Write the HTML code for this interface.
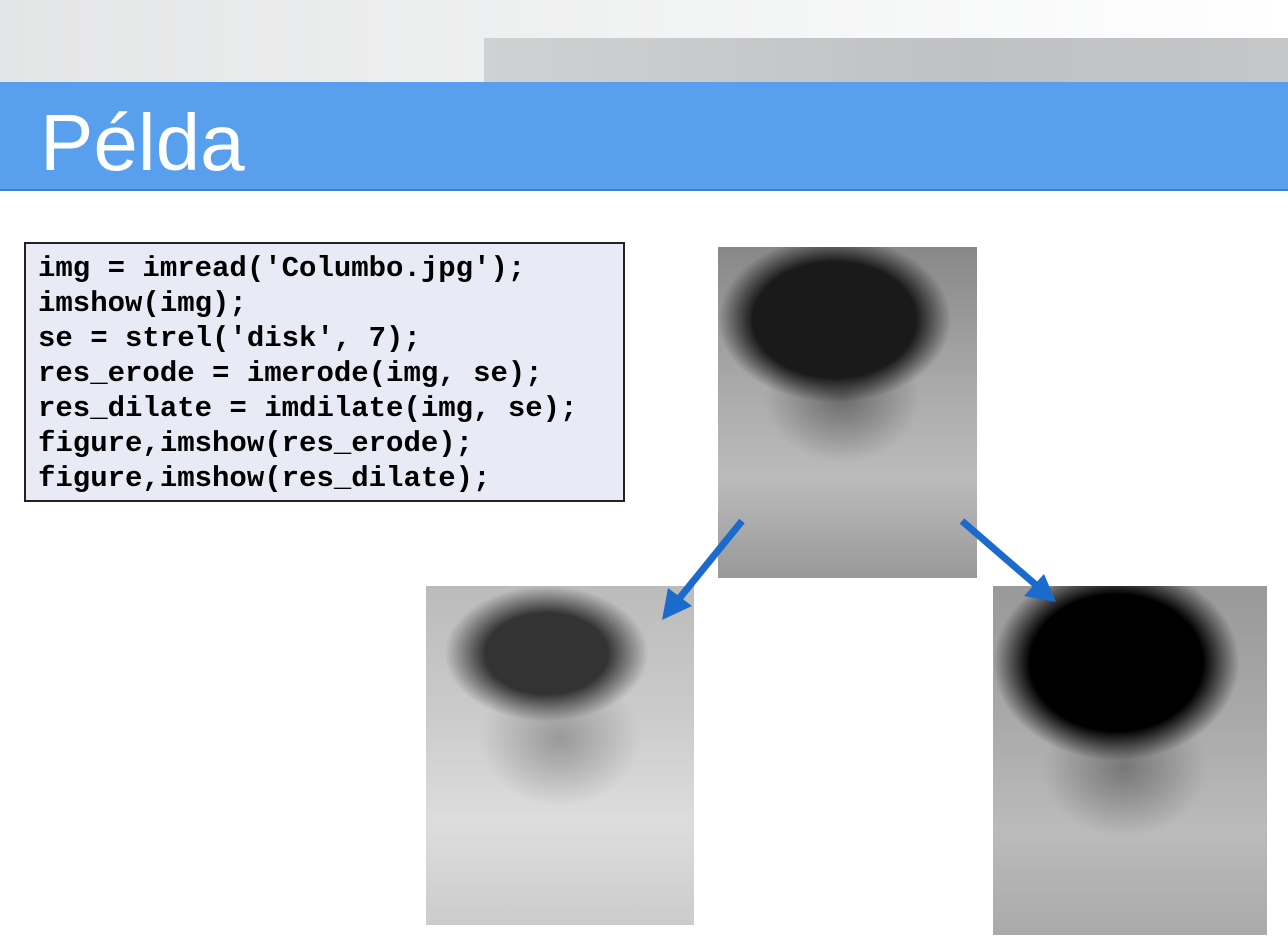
<!DOCTYPE html>
<html><head><meta charset="utf-8"><style>
body{margin:0;width:1288px;height:943px;position:relative;background:#fff;overflow:hidden;font-family:"Liberation Sans",sans-serif}
.a{position:absolute}
</style></head><body>
<div class="a" style="left:0;top:0;width:1288px;height:82px;background:linear-gradient(90deg,#e4e5e6,#f4f5f5 60%,#fff)"></div>
<div class="a" style="left:484px;top:38px;width:804px;height:44px;background:linear-gradient(90deg,#cfd1d3,#bfc1c4 60%,#c4c6c8)"></div>
<div class="a" style="left:0;top:82px;width:1288px;height:107px;background:#58a0ee;border-bottom:2px solid #3f7fcc"></div>
<div class="a" style="left:40px;top:98px;font-size:80px;color:#fff;line-height:90px">Példa</div>
<div class="a" style="left:24px;top:242px;width:597px;height:256px;background:#e8ebf6;border:2px solid #222"></div>
<pre class="a" style="left:38px;top:251px;margin:0;font-family:'Liberation Mono',monospace;font-weight:bold;font-size:29px;line-height:35px;color:#000">img = imread('Columbo.jpg');
imshow(img);
se = strel('disk', 7);
res_erode = imerode(img, se);
res_dilate = imdilate(img, se);
figure,imshow(res_erode);
figure,imshow(res_dilate);</pre>
<div class="a" style="left:718px;top:247px;width:259px;height:331px;background:radial-gradient(ellipse 45% 25% at 45% 22%,#1a1a1a 70%,transparent 100%),radial-gradient(ellipse 30% 20% at 48% 45%,#6a6a6a,transparent),linear-gradient(180deg,#888 0%,#a8a8a8 40%,#bbb 70%,#999 100%)"></div>
<div class="a" style="left:426px;top:586px;width:268px;height:339px;background:radial-gradient(ellipse 38% 20% at 45% 20%,#333 60%,transparent 100%),radial-gradient(ellipse 30% 20% at 50% 45%,#999,transparent),linear-gradient(180deg,#bbb 0%,#ccc 40%,#ddd 70%,#ccc 100%)"></div>
<div class="a" style="left:993px;top:586px;width:274px;height:349px;background:radial-gradient(ellipse 45% 28% at 45% 22%,#000 70%,transparent 100%),radial-gradient(ellipse 30% 20% at 48% 52%,#777,transparent),linear-gradient(180deg,#999 0%,#aaa 40%,#bbb 70%,#aaa 100%)"></div>
<svg class="a" style="left:0;top:0" width="1288" height="943">
<line x1="742" y1="521" x2="678" y2="600" stroke="#1a6bcc" stroke-width="7"/>
<polygon points="662,620 668,588 692,606" fill="#1a6bcc"/>
<line x1="962" y1="521" x2="1036" y2="585" stroke="#1a6bcc" stroke-width="7"/>
<polygon points="1056,602 1024,596 1044,574" fill="#1a6bcc"/>
</svg>
</body></html>
